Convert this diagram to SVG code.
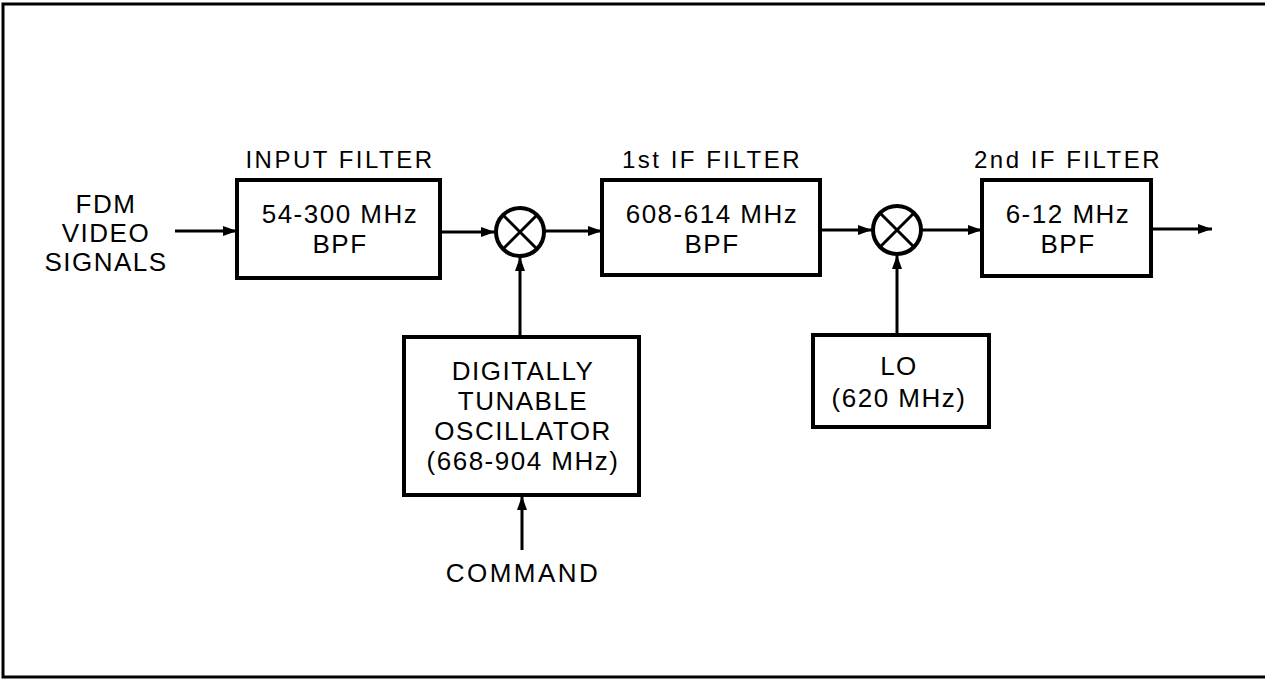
<svg xmlns="http://www.w3.org/2000/svg" width="1265" height="680" viewBox="0 0 1265 680">
<style>
.box{fill:none;stroke:#000;stroke-width:4}
.wire{fill:none;stroke:#000;stroke-width:3}
.mix{fill:#fff;stroke:#000;stroke-width:4}
text{font-family:"Liberation Sans",Arial,sans-serif;fill:#000;text-anchor:middle}
.t{font-size:26px;letter-spacing:1.5px}
.lbl{font-size:24px;letter-spacing:2.5px}
</style>
<defs>
<marker id="ah" viewBox="0 0 14 10" refX="14" refY="5" markerWidth="14" markerHeight="10" markerUnits="userSpaceOnUse" orient="auto">
<path d="M0,0 L14,5 L0,10 Z" fill="#000"/>
</marker>
</defs>
<rect width="1265" height="680" fill="#fff"/>
<path d="M1265,4 H3 V677 H1265" fill="none" stroke="#000" stroke-width="3"/>
<g id="connectors">
<line class="wire" x1="175" y1="231" x2="237" y2="231" marker-end="url(#ah)"/>
<line class="wire" x1="440" y1="232" x2="495" y2="232" marker-end="url(#ah)"/>
<line class="wire" x1="545" y1="231" x2="602" y2="231" marker-end="url(#ah)"/>
<line class="wire" x1="820" y1="230" x2="872" y2="230" marker-end="url(#ah)"/>
<line class="wire" x1="922" y1="230" x2="982" y2="230" marker-end="url(#ah)"/>
<line class="wire" x1="1151" y1="229" x2="1212" y2="229" marker-end="url(#ah)"/>
<line class="wire" x1="520" y1="337" x2="520" y2="257" marker-end="url(#ah)"/>
<line class="wire" x1="897" y1="335" x2="897" y2="255" marker-end="url(#ah)"/>
<line class="wire" x1="522" y1="550" x2="522" y2="496" marker-end="url(#ah)"/>
</g>
<g id="input-label">
<text class="t" x="106" y="213">FDM</text>
<text class="t" x="106" y="242">VIDEO</text>
<text class="t" x="106" y="271">SIGNALS</text>
</g>
<g id="input-filter">
<text class="lbl" x="340" y="168">INPUT FILTER</text>
<rect class="box" x="237" y="180" width="203" height="98"/>
<text class="t" x="340" y="223">54-300 MHz</text>
<text class="t" x="340" y="253">BPF</text>
</g>
<g id="mixer1">
<circle class="mix" cx="520" cy="232" r="24"/>
<path class="wire" d="M503,215 L537,249 M537,215 L503,249"/>
</g>
<g id="if1-filter">
<text class="lbl" x="712" y="168">1st IF FILTER</text>
<rect class="box" x="602" y="180" width="218" height="95"/>
<text class="t" x="712" y="223">608-614 MHz</text>
<text class="t" x="712" y="253">BPF</text>
</g>
<g id="mixer2">
<circle class="mix" cx="897" cy="230" r="24"/>
<path class="wire" d="M880,213 L914,247 M914,213 L880,247"/>
</g>
<g id="if2-filter">
<text class="lbl" x="1068" y="168">2nd IF FILTER</text>
<rect class="box" x="982" y="180" width="169" height="96"/>
<text class="t" x="1068" y="223">6-12 MHz</text>
<text class="t" x="1068" y="253">BPF</text>
</g>
<g id="oscillator">
<rect class="box" x="404" y="337" width="235" height="158"/>
<text class="t" x="523" y="380">DIGITALLY</text>
<text class="t" x="523" y="410">TUNABLE</text>
<text class="t" x="523" y="440">OSCILLATOR</text>
<text class="t" x="523" y="470">(668-904 MHz)</text>
</g>
<g id="command">
<text class="t" x="523" y="582" style="letter-spacing:2.5px">COMMAND</text>
</g>
<g id="lo">
<rect class="box" x="813" y="335" width="176" height="92"/>
<text class="t" x="899" y="375">LO</text>
<text class="t" x="899" y="407">(620 MHz)</text>
</g>
</svg>
